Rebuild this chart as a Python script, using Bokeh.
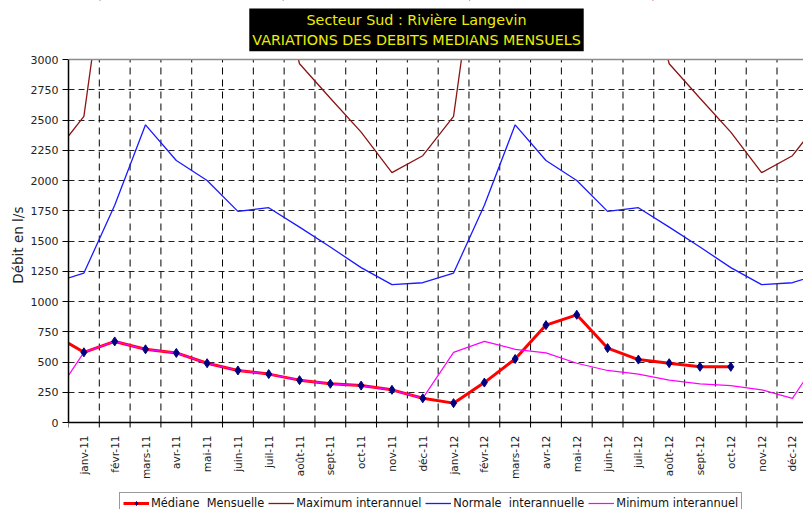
from bokeh.plotting import figure
from bokeh.models import (Range1d, FixedTicker, Span, Legend, LegendItem,
                          ColumnDataSource, Label, BoxAnnotation)
from bokeh.embed import file_html
from bokeh.resources import INLINE

# ---- data ----
months = ["janv-11", "févr-11", "mars-11", "avr-11", "mai-11", "juin-11",
          "juil-11", "août-11", "sept-11", "oct-11", "nov-11", "déc-11",
          "janv-12", "févr-12", "mars-12", "avr-12", "mai-12", "juin-12",
          "juil-12", "août-12", "sept-12", "oct-12", "nov-12", "déc-12"]

# monthly median flow (l/s), déc-10 value first (just off the left edge)
mediane_dec10 = 730
mediane = [580, 670, 605, 575, 490, 430, 400, 350, 320, 305, 270, 200,
           160, 330, 525, 805, 890, 615, 520, 490, 460, 460]

# interannual monthly statistics (janv .. déc), repeated every year
maximum_mois = [2530, 4370, 5400, 5000, 4600, 4200, 3950, 2965, 2680, 2400, 2065, 2205]
normale_mois = [1235, 1795, 2460, 2165, 2000, 1745, 1775, 1615, 1450, 1280, 1140, 1155]
minimum_mois = [580, 670, 605, 575, 490, 430, 400, 350, 320, 305, 270, 200]

yticks = list(range(0, 3001, 250))
YMAX = 3000

# ---- build series (déc-10 .. janv-13) ----
x_inter = list(range(-1, len(months) + 1))
def periodic(m):
    return [m[11]] + m * 2 + [m[0]]
src_inter = ColumnDataSource(dict(x=x_inter,
                                  maxi=periodic(maximum_mois),
                                  norm=periodic(normale_mois),
                                  mini=periodic(minimum_mois)))
src_med = ColumnDataSource(dict(x=list(range(-1, len(mediane))),
                                y=[mediane_dec10] + mediane))
src_pts = ColumnDataSource(dict(x=list(range(len(mediane))), y=mediane))
boundaries = [i - 0.5 for i in range(len(months) + 1)]

FONT = "DejaVu Sans"

# layout: plot area 0..3000 occupies y 59..422 of a 515 px tall frame
FH = 515
TOP_PX, ZERO_PX = 59, 422
upp = YMAX / (ZERO_PX - TOP_PX)
y_start = -(FH - ZERO_PX) * upp
y_end = YMAX + TOP_PX * upp

p = figure(frame_width=735, frame_height=FH, output_backend="svg",
           toolbar_location=None, title=None,
           x_range=Range1d(-0.5, 23.36), y_range=Range1d(y_start, y_end),
           min_border_left=68, min_border_right=0, min_border_top=0,
           min_border_bottom=0)
p.background_fill_color = "white"
p.border_fill_color = "white"
p.outline_line_color = None

# grid: horizontal from the y axis ticks, vertical category separators
p.xgrid.visible = False
p.ygrid.ticker = FixedTicker(ticks=yticks)
p.ygrid.grid_line_color = "#222222"
p.ygrid.grid_line_dash = "6 4"
p.ygrid.grid_line_width = 1.2
n_b = len(boundaries)
p.segment(x0=boundaries, y0=[0] * n_b, x1=boundaries, y1=[YMAX] * n_b,
          line_color="black", line_width=1, line_dash="7 5")
# small category tick marks under the axis (5 px)
p.segment(x0=boundaries, y0=[0] * n_b, x1=boundaries, y1=[-5 * upp] * n_b,
          line_color="black", line_width=1)

# axes
xa = p.xaxis[0]
xa.fixed_location = 0
xa.ticker = FixedTicker(ticks=list(range(len(months))))
xa.major_label_overrides = {i: m for i, m in enumerate(months)}
xa.major_label_orientation = 1.5707963
xa.major_tick_line_color = None
xa.minor_tick_line_color = None
xa.major_tick_out = 0
xa.major_tick_in = 0
xa.axis_line_color = "black"
xa.axis_line_width = 1.5
xa.major_label_text_font = FONT
xa.major_label_text_font_size = "10.5px"
xa.major_label_text_color = "#222222"
xa.major_label_standoff = 13

ya = p.yaxis[0]
ya.bounds = (0, YMAX)
ya.ticker = FixedTicker(ticks=yticks)
ya.minor_tick_line_color = None
ya.major_tick_out = 6
ya.major_tick_in = 0
ya.major_tick_line_color = "black"
ya.axis_line_color = "black"
ya.axis_line_width = 1.5
ya.major_label_text_font = FONT
ya.major_label_text_font_size = "11px"
ya.major_label_text_color = "#222222"
ya.major_label_standoff = 4
ya.axis_label = "\u00a0" * 6 + "Débit en l/s"
ya.axis_label_text_font = FONT
ya.axis_label_text_font_size = "13.5px"
ya.axis_label_text_font_style = "normal"
ya.axis_label_text_color = "#222222"
ya.axis_label_standoff = 2

# series
r_med = p.line("x", "y", source=src_med, line_color="#ff0000", line_width=3)
r_max = p.line("x", "maxi", source=src_inter, line_color="#8b1414", line_width=1.3)
r_norm = p.line("x", "norm", source=src_inter, line_color="#1a1aff", line_width=1.3)
r_min = p.line("x", "mini", source=src_inter, line_color="#ff00ff", line_width=1.2)
r_pts = p.scatter("x", "y", source=src_pts, marker="diamond", size=9,
                  fill_color="#000080", line_color="#000080")

# hide what lies above the plot area (chart is clipped at 3000)
p.add_layout(BoxAnnotation(bottom=YMAX, fill_color="white", fill_alpha=1,
                           line_color=None))
p.add_layout(Span(location=YMAX, dimension="width", line_color="#8c8c8c",
                  line_width=1.5))

legend = Legend(items=[
    LegendItem(label="Médiane  Mensuelle", renderers=[r_med, r_pts]),
    LegendItem(label="Maximum interannuel", renderers=[r_max]),
    LegendItem(label="Normale  interannuelle", renderers=[r_norm]),
    LegendItem(label="Minimum interannuel", renderers=[r_min]),
], orientation="horizontal", location=(51, 1))
legend.label_text_font = FONT
legend.label_text_font_size = "11.4px"
legend.label_text_color = "#111111"
legend.glyph_width = 26
legend.glyph_height = 10
legend.label_standoff = 2
legend.spacing = 4
legend.padding = 3
legend.margin = 0
legend.border_line_color = "#333333"
legend.border_line_width = 1
legend.background_fill_alpha = 1
legend.label_height = 12
p.add_layout(legend, "center")

title = Label(x=348, y=FH - 8, x_units="screen", y_units="screen",
              text="Secteur Sud : Rivière Langevin\nVARIATIONS DES DEBITS MEDIANS MENSUELS",
              text_align="center", text_baseline="top",
              text_font=FONT, text_font_size="14.3px", text_color="#eeee00",
              background_fill_color="black", text_line_height=1.3,
              padding=3)
p.add_layout(title)

open("out.html", "w").write(file_html(p, INLINE))
